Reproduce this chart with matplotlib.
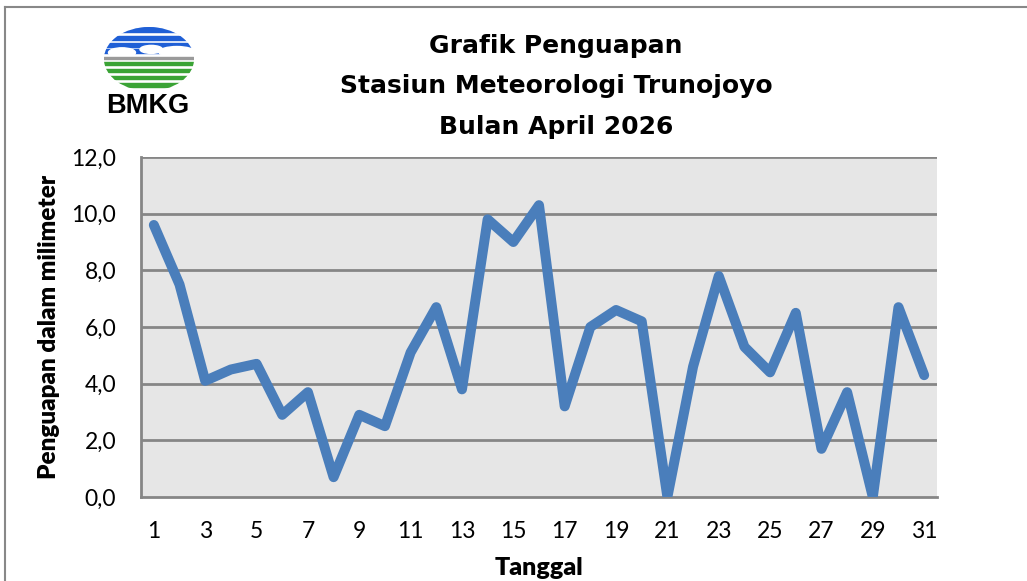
import matplotlib
matplotlib.use('Agg')
import matplotlib.pyplot as plt
from matplotlib.patches import Ellipse, Rectangle
from matplotlib.lines import Line2D
import numpy as np

# data penguapan harian (mm), April 2026
tanggal = list(range(1, 32))
penguapan = [9.6, 7.5, 4.1, 4.5, 4.7, 2.9, 3.7, 0.7, 2.9, 2.5,
             5.1, 6.7, 3.8, 9.8, 9.0, 10.3, 3.2, 6.0, 6.6, 6.2,
             0.0, 4.6, 7.8, 5.3, 4.4, 6.5, 1.7, 3.7, 0.0, 6.7, 4.3]
yticks = [0, 2, 4, 6, 8, 10, 12]
judul = ['Grafik Penguapan', 'Stasiun Meteorologi Trunojoyo', 'Bulan April 2026']

line_color = '#4a7ebb'
grid_color = '#868686'


def draw_logo(fig):
    lax = fig.add_axes([104 / 1027, 1 - 91 / 581, 90 / 1027, 64 / 581])
    lax.set_xlim(-1.0, 1.0)
    lax.set_ylim(-1.0, 1.0)
    lax.axis('off')
    clip = Ellipse((0, 0), 2, 2, transform=lax.transData, facecolor='none', edgecolor='none')
    lax.add_patch(clip)
    # blue stripes (top)
    for y0, h in [(0.84, 0.16), (0.6, 0.13), (0.38, 0.12), (0.2, 0.1)]:
        r = Rectangle((-1.1, y0), 2.2, h, color='#1f5fd6')
        lax.add_patch(r)
        r.set_clip_path(clip)
    # white cloud shapes over blue
    for cx, cy, w, h in [(-0.6, 0.2, 0.6, 0.3), (0.62, 0.22, 0.8, 0.34), (0.05, 0.3, 0.5, 0.25)]:
        lax.add_patch(Ellipse((cx, cy), w, h, color='white'))
    # gray line
    r = Rectangle((-1.1, 0.0), 2.2, 0.07, color='#9a9a9a')
    lax.add_patch(r)
    r.set_clip_path(clip)
    # green stripes (bottom)
    for y0, h in [(-0.2, 0.12), (-0.42, 0.12), (-0.64, 0.12), (-0.88, 0.13)]:
        r = Rectangle((-1.1, y0), 2.2, h, color='#3aa335')
        lax.add_patch(r)
        r.set_clip_path(clip)
    fig.text(148 / 1027, 1 - 106 / 581, 'BMKG', ha='center', va='center',
             fontsize=19.5, fontweight='bold', family='Liberation Sans', color='black')


fig = plt.figure(figsize=(10.27, 5.81), dpi=100)
ax = fig.add_axes([141 / 1027, 84 / 581, 796 / 1027, 340 / 581])
ax.set_facecolor('#e6e6e6')

ax.plot(tanggal, penguapan, color=line_color, linewidth=7.2,
        solid_joinstyle='round', solid_capstyle='round', zorder=3)

ax.set_xlim(0.5, 31.5)
ax.set_ylim(0, 12)
ax.set_yticks(yticks)
ax.set_yticklabels([f'{v:.1f}'.replace('.', ',') for v in yticks])
ax.set_xticks(tanggal[::2])
ax.set_xticklabels([str(t) for t in tanggal[::2]])
ax.tick_params(length=0, labelsize=16.5)
ax.tick_params(axis='y', pad=18)
ax.tick_params(axis='x', pad=17)
for lbl in ax.get_xticklabels() + ax.get_yticklabels():
    lbl.set_family('Lato')

for v in yticks[1:]:
    ax.axhline(v, color=grid_color, linewidth=2, zorder=1)
for s in ['top', 'right']:
    ax.spines[s].set_visible(False)
for s in ['left', 'bottom']:
    ax.spines[s].set_color(grid_color)
    ax.spines[s].set_linewidth(2)

ax.set_xlabel('Tanggal', fontsize=18, fontweight='heavy', family='Lato', labelpad=11)
ax.set_ylabel('Penguapan dalam milimeter', fontsize=17.5, fontweight='heavy', family='Lato', labelpad=8)

for i, t in enumerate(judul):
    fig.text(556 / 1027, 1 - (46 + 40.5 * i) / 581, t, ha='center', va='center',
             fontsize=18, fontweight='bold', family='DejaVu Sans')

draw_logo(fig)

# bingkai luar
fig.add_artist(Line2D([5 / 1027, 5 / 1027], [0, 1 - 7 / 581], transform=fig.transFigure, color='#888888', linewidth=1.5))
fig.add_artist(Line2D([5 / 1027, 1], [1 - 7 / 581, 1 - 7 / 581], transform=fig.transFigure, color='#888888', linewidth=1.5))

fig.savefig('out.png', dpi=100)
